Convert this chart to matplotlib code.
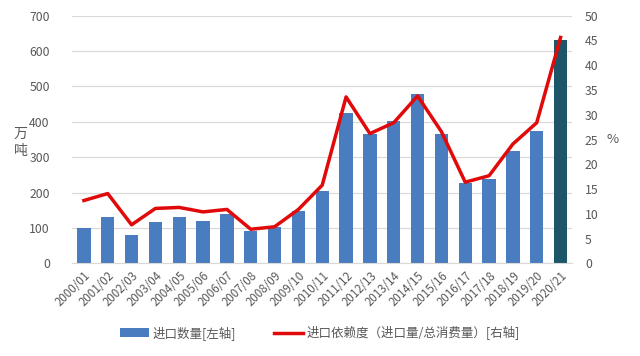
import matplotlib
matplotlib.use('Agg')
import matplotlib.pyplot as plt

plt.rcParams['font.family'] = ['Noto Sans CJK SC', 'DejaVu Sans']

# crop years, import volume (10k t) and import dependence (%)
years = ['2000/01', '2001/02', '2002/03', '2003/04', '2004/05', '2005/06', '2006/07',
         '2007/08', '2008/09', '2009/10', '2010/11', '2011/12', '2012/13', '2013/14',
         '2014/15', '2015/16', '2016/17', '2017/18', '2018/19', '2019/20', '2020/21']
imports = [101, 131, 79, 118, 130, 119, 141, 93, 103, 148, 205, 425, 366, 402,
           479, 366, 228, 239, 319, 374, 632]
dependence = [12.7, 14.1, 7.8, 11.1, 11.3, 10.4, 10.9, 6.9, 7.4, 10.9, 15.8, 33.6, 26.2,
              28.4, 33.8, 26.6, 16.4, 17.7, 24.1, 28.4, 45.6]

blue = '#4a7cc0'
teal = '#1c5668'
red = '#e00a0a'
grey = '#595959'

fig = plt.figure(figsize=(6.4, 3.56), dpi=100)
ax = fig.add_axes([0.1125, 0.26, 0.782, 0.696])
ax2 = ax.twinx()

x = list(range(len(years)))
colors = [blue] * (len(years) - 1) + [teal]
bars = ax.bar(x, imports, width=0.56, color=colors, zorder=2)
line, = ax2.plot(x, dependence, color=red, lw=2.5, zorder=3)

ax.set_ylim(0, 700)
ax.set_yticks(range(0, 701, 100))
ax2.set_ylim(0, 50)
ax2.set_yticks(range(0, 51, 5))
ax.set_xlim(-0.5, len(years) - 0.5)

ax.grid(axis='y', color='#d9d9d9', lw=0.9, zorder=0)
for a in (ax, ax2):
    for s in a.spines.values():
        s.set_visible(False)
    a.tick_params(length=0, labelsize=8.8, colors=grey)
ax.spines['bottom'].set_visible(True)
ax.spines['bottom'].set_color('#d9d9d9')

ax.set_xticks(x)
ax.set_xticklabels(years, rotation=45, ha='right', rotation_mode='anchor', fontsize=8.3)
ax.tick_params(axis='x', pad=4)
ax.tick_params(axis='y', pad=16)
ax2.tick_params(axis='y', pad=9)

ax.set_ylabel('万\n吨', rotation=0, fontsize=10, color=grey, labelpad=0,
              ha='center', va='center', linespacing=1.3)
ax.yaxis.set_label_coords(-0.102, 0.49)
ax2.set_ylabel('%', rotation=0, fontsize=9.5, color=grey, labelpad=10, va='center')

fig.legend([bars[0], line], ['进口数量[左轴]', '进口依赖度（进口量/总消费量）[右轴]'],
           loc='center', bbox_to_anchor=(0.5, 0.065), ncol=2, frameon=False,
           fontsize=9, labelcolor=grey, handlelength=2.3, handletextpad=0.3,
           columnspacing=3)

fig.savefig('out.png', dpi=100)
